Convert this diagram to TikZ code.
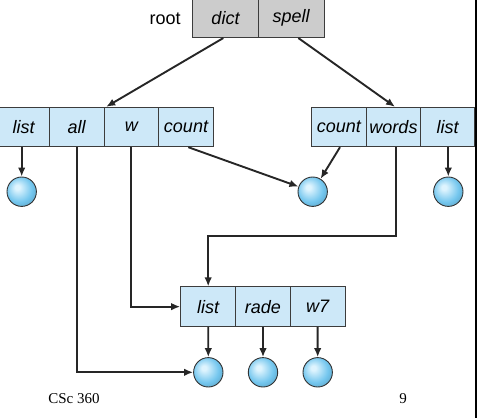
\documentclass[tikz,border=0pt]{standalone}
\usepackage{fontspec}
\setmainfont{Liberation Sans}
\newfontfamily\serifft{Liberation Serif}
\usetikzlibrary{arrows.meta,calc}
\definecolor{cellblue}{RGB}{205,232,248}
\definecolor{cellgray}{RGB}{204,204,204}
\definecolor{edgegray}{RGB}{60,60,60}
\definecolor{ballin}{RGB}{222,244,254}
\definecolor{ballout}{RGB}{115,198,238}
\pgfdeclareradialshading{myball}{\pgfpoint{-8bp}{8bp}}{color(0bp)=(ballin); color(4bp)=(ballin); color(22bp)=(ballout); color(27bp)=(ballout!92!black); color(50bp)=(ballout!92!black)}
\begin{document}
\begin{tikzpicture}[x=1pt,y=-1pt,
  cell/.style={draw=edgegray, line width=1pt, fill=cellblue, minimum height=39.4pt, inner sep=0pt, font=\fontsize{18}{20}\selectfont\itshape},
  rcell/.style={cell, fill=cellgray},
  ball/.style={circle, draw=black!80, line width=0.9pt, minimum size=29.4pt, inner sep=0pt, shading=myball},
  arr/.style={line width=1.9pt, black!85, -{Latex[length=9pt,width=7.5pt]}},
  plain/.style={font=\fontsize{18}{20}\selectfont}]
\useasboundingbox (0,0) rectangle (477,418);
% root
\node[rcell, minimum width=65.6pt] (dict) at (225.5,17.85) {dict};
\node[rcell, minimum width=65.7pt] (spell) at (291.15,17.85) {spell};
\node[plain] (root) at (165.2,19) {root};
% left row
\node[cell, minimum width=51.3pt] (list1) at (23.65,127) {list};
\node[cell, minimum width=54.7pt] (all) at (76.65,127) {all};
\node[cell, minimum width=54.7pt] (w) at (131.35,127) {w};
\node[cell, minimum width=54.6pt] (count1) at (186,127) {count};
% right row
\node[cell, minimum width=55pt] (count2) at (338.8,127) {count};
\node[cell, minimum width=54.4pt] (words) at (393.5,127) {words};
\node[cell, minimum width=53.8pt] (list3) at (447.6,127) {list};
% bottom row
\node[cell, minimum width=55pt] (list4) at (208.2,306.65) {list};
\node[cell, minimum width=54.6pt] (rade) at (263,306.65) {rade};
\node[cell, minimum width=54.7pt] (w7) at (317.65,306.65) {w7};
% balls
\node[ball] (c1) at (21.7,191.7) {};
\node[ball] (cm) at (312.7,191.7) {};
\node[ball] (c3) at (448.3,191.7) {};
\node[ball] (c4) at (208.3,372.3) {};
\node[ball] (c5) at (263,372.3) {};
\node[ball] (c6) at (317.7,372.3) {};
% right black bar
\fill[black] (474.5,-5) rectangle (480,425);
% footer
\node[font=\serifft\fontsize{15}{17}\selectfont] (csc) at (74,399) {CSc 360};
\node[font=\serifft\fontsize{15}{17}\selectfont] (pg) at (403,399) {9};
% connectors
\draw[arr] ($(dict.south)+(-2.2,0)$) -- ($(w.north west)+(2.7,0)$);
\draw[arr] ($(spell.south)+(7.2,0)$) -- ($(words.north)+(1.5,0)$);
\draw[arr] (c1.north |- list1.south) -- (c1.north);
\draw[arr] ($(count1.south)+(2.3,0)$) -- (cm);
\draw[arr] ($(count2.south)+(1.2,0)$) -- (cm);
\draw[arr] (c3.north |- list3.south) -- (c3.north);
\draw[arr] (all.south) |- (c4.west);
\draw[arr] (w.south) |- (list4.west);
\coordinate (bend) at (208.2,235.7);
\draw[arr] ($(words.south)+(2.2,0)$) |- (bend) -- (list4.north);
\draw[arr] (list4.south) -- (c4.north);
\draw[arr] (rade.south) -- (c5.north);
\draw[arr] (w7.south) -- (c6.north);
\end{tikzpicture}
\end{document}
